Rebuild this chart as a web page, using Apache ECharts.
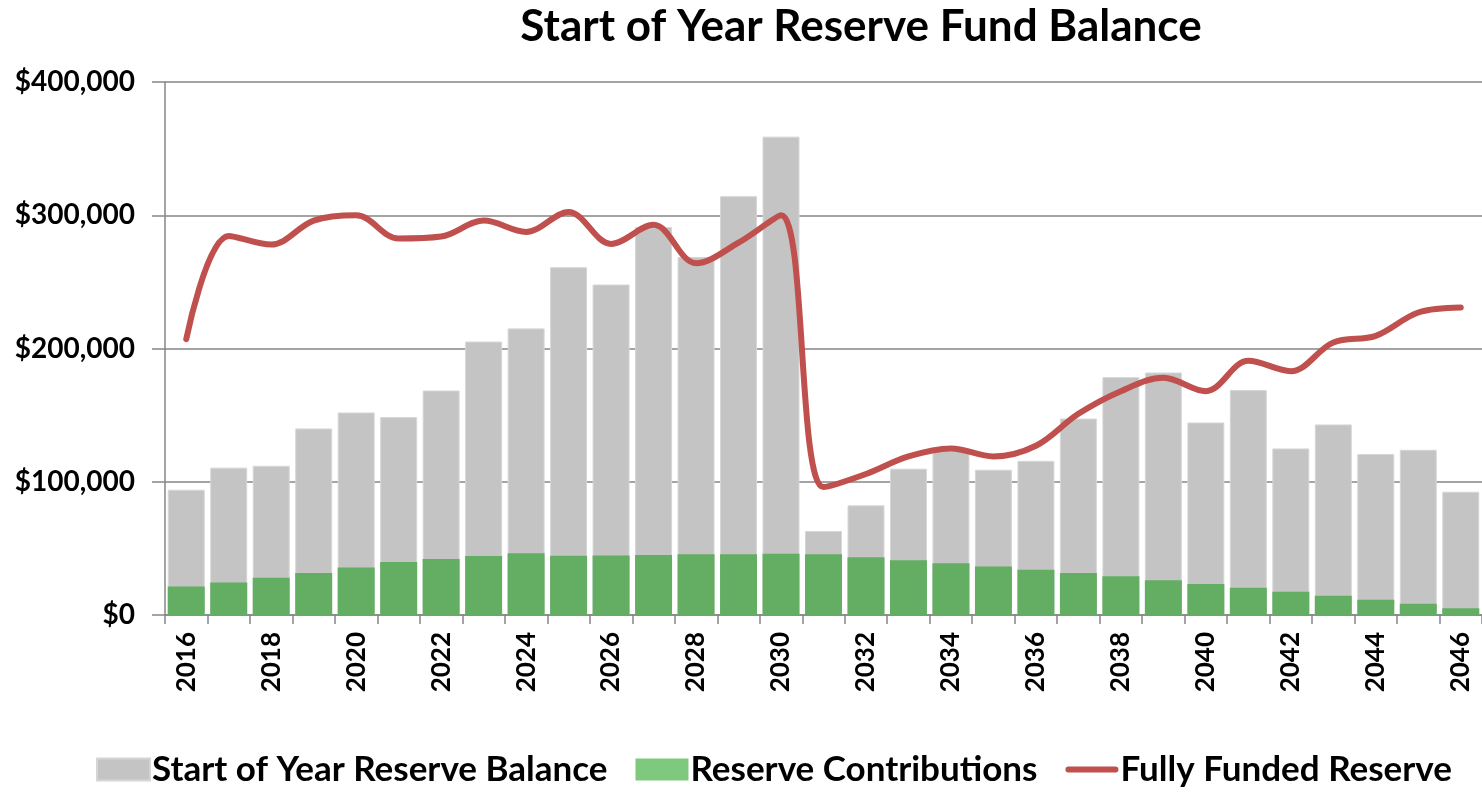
<!DOCTYPE html>
<html>
<head>
<meta charset="utf-8">
<script src="https://cdn.jsdelivr.net/npm/echarts@6/dist/echarts.min.js"></script>
<style>
html,body{margin:0;padding:0;background:#fff;}
#chart{width:1482px;height:792px;}
</style>
</head>
<body>
<div id="chart"></div>
<script>
const years = ['2016','2017','2018','2019','2020','2021','2022','2023','2024','2025','2026','2027','2028','2029','2030','2031','2032','2033','2034','2035','2036','2037','2038','2039','2040','2041','2042','2043','2044','2045','2046'];
const reserveBalance = [94000,110600,112000,140000,152000,148500,168500,205200,215100,261000,248000,291200,268700,314300,359000,63000,82300,109800,123200,109000,115700,147400,178500,182000,144500,168800,125000,143000,120800,124000,92500];
const reserveContributions = [21400,24400,27900,31600,35600,39700,42100,44200,46300,44500,44700,45000,45500,45500,46000,45500,43400,41000,38800,36400,34000,31600,29000,26000,23300,20500,17500,14500,11500,8500,5000];
const fullyFunded = [207000,284500,278000,296000,300000,282500,284000,296000,287500,302500,278500,292800,264000,279400,300000,96000,105800,119000,125000,119000,127000,151000,168000,178000,168000,190800,183000,204500,209500,227000,230800];
const yTicks = [0,100000,200000,300000,400000];

const font = 'Lato';
const chart = echarts.init(document.getElementById('chart'));
chart.setOption({
  animation: false,
  backgroundColor: '#ffffff',
  title: {
    text: 'Start of Year Reserve Fund Balance',
    left: 856, top: 0, textAlign: 'center',
    textStyle: {fontFamily: font, fontWeight: 'bold', fontSize: 44, color: '#000'}
  },
  legend: {
    bottom: 0, left: 91,
    itemWidth: 53, itemHeight: 22, itemGap: 28,
    textStyle: {fontFamily: font, fontWeight: 'bold', fontSize: 35, color: '#000', padding:[0,0,0,-3]},
    data: [
      {name: 'Start of Year Reserve Balance', icon: 'rect', itemStyle: {color: '#c4c4c4'}},
      {name: 'Reserve Contributions', icon: 'rect', itemStyle: {color: '#7ec97e'}},
      {name: 'Fully Funded Reserve', icon: 'path://M3,0 H52 A3,3 0 0 1 52,6 H3 A3,3 0 0 1 3,0 Z', itemStyle: {color: '#c0504d'}}
    ]
  },
  grid: {left: 165, right: 0, top: 82, bottom: 177, containLabel: false},
  xAxis: {
    type: 'category',
    data: years,
    axisLine: {lineStyle: {color: '#868686', width: 1.5}},
    axisTick: {show: true, interval: 0, length: 9, lineStyle: {color: '#868686', width: 1.5}},
    axisLabel: {interval: 1, rotate: 90, margin: 17, fontFamily: font, fontWeight: 'bold', fontSize: 26, color: '#000'}
  },
  yAxis: {
    type: 'value',
    min: 0, max: 400000, interval: 100000,
    axisLine: {show: true, lineStyle: {color: '#868686', width: 1.5}},
    axisTick: {show: true, length: 13, lineStyle: {color: '#868686', width: 1.5}},
    splitLine: {show: true, lineStyle: {color: '#868686', width: 1.5}},
    axisLabel: {
      margin: 30, fontFamily: font, fontWeight: 'bold', fontSize: 28, color: '#000',
      formatter: v => '$' + v.toLocaleString('en-US')
    }
  },
  series: [
    {
      name: 'Start of Year Reserve Balance', type: 'bar', data: reserveBalance,
      barCategoryGap: '13%', barGap: '-100%',
      itemStyle: {color: '#c4c4c4', borderColor: '#d6d6d6', borderWidth: 1}
    },
    {
      name: 'Reserve Contributions', type: 'bar', data: reserveContributions,
      barCategoryGap: '13%', barGap: '-100%',
      itemStyle: {color: '#63ae63'}
    },
    {
      name: 'Fully Funded Reserve', type: 'line', data: fullyFunded,
      smooth: 0.35, symbol: 'none', showSymbol: false,
      lineStyle: {color: '#c0504d', width: 6, cap: 'round'},
      itemStyle: {color: '#c0504d'}
    }
  ]
});
</script>
</body>
</html>
